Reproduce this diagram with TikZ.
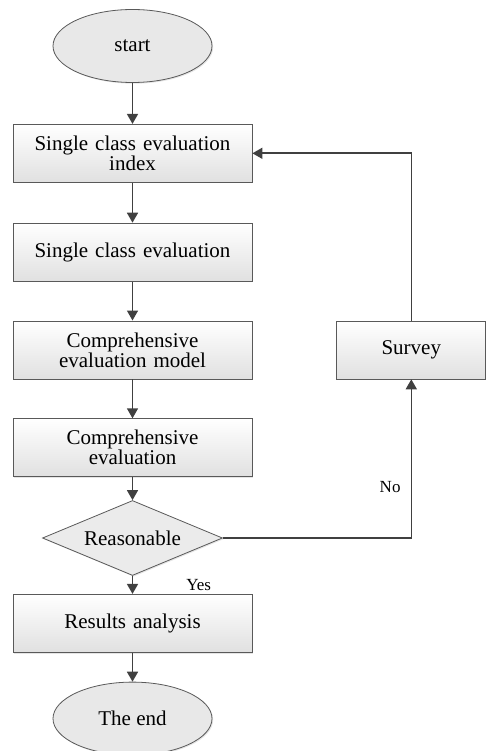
\documentclass[tikz,border=0pt]{standalone}
\usepackage{fontspec}
\setmainfont{Liberation Serif}
\usetikzlibrary{arrows.meta,positioning,shapes.geometric,shadows}
\tikzset{
  terminal/.style={ellipse, draw=black!65, fill=black!9, thick,
    font=\fontsize{21}{20}\selectfont, minimum width=159pt, minimum height=73pt,
    inner sep=0pt, drop shadow={shadow xshift=1.2pt, shadow yshift=-1.2pt, fill=black!20}},
  process/.style={rectangle, draw=black!65, thick, top color=white, bottom color=black!12,
    font=\fontsize{21}{20}\selectfont, align=center, text width=225pt,
    minimum width=239pt, minimum height=58pt, inner sep=0pt,
    drop shadow={shadow xshift=1.2pt, shadow yshift=-1.2pt, fill=black!20}},
  survey/.style={process, text width=140pt, minimum width=149pt},
  decision/.style={diamond, draw=black!65, thick, fill=black!8, aspect=2.4,
    font=\fontsize{21}{20}\selectfont, minimum width=180pt, minimum height=75pt,
    inner sep=0pt, drop shadow={shadow xshift=1.2pt, shadow yshift=-1.2pt, fill=black!20}},
  lbl/.style={font=\fontsize{17}{18}\selectfont, inner sep=0pt, text=black},
  arr/.style={-{Triangle[length=10pt, width=11pt]}, line width=1.6pt, black!75},
}

\begin{document}
\begin{tikzpicture}[x=1pt, y=1pt]
\useasboundingbox (0,0) rectangle (486,-751);

% ================= MAIN COLUMN =================
\node[terminal] (start) at (132.5,-46) {start};
\node[process, below=41pt of start] (sindex) {Single class evaluation\\index};
\node[process, below=40pt of sindex] (seval) {Single class evaluation};
\node[process, below=39pt of seval] (cmodel) {Comprehensive\\evaluation model};
\node[process, below=39pt of cmodel] (ceval) {Comprehensive\\evaluation};
\node[decision, below=23pt of ceval] (reason) {Reasonable};
\node[process, below=18pt of reason] (result) {Results analysis};
\node[terminal, below=29pt of result] (end) {The end};

% ================= FEEDBACK =================
\node[survey, right=84pt of cmodel] (survey) {Survey};

% ================= ARROWS =================
\draw[arr] (start) -- (sindex);
\draw[arr] (sindex) -- (seval);
\draw[arr] (seval) -- (cmodel);
\draw[arr] (cmodel) -- (ceval);
\draw[arr] (ceval) -- (reason);
\draw[arr] (reason) -- (result) node[midway, right=53pt, lbl] {Yes};
\draw[arr] (result) -- (end);

\draw[arr] (reason.east) -| (survey.south) node[pos=0.66, left=10pt, lbl] {No};
\draw[arr] (survey.north) |- (sindex.east);

\end{tikzpicture}
\end{document}
